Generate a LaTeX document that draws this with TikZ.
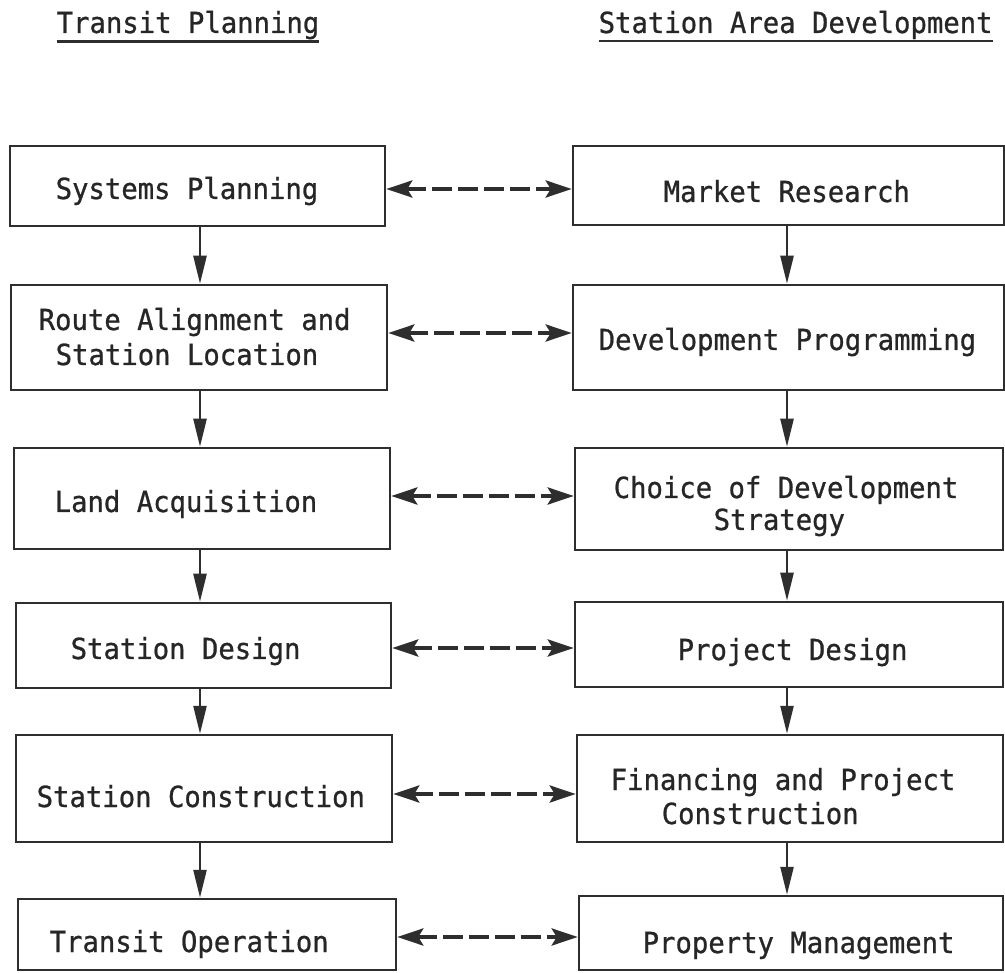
\documentclass[tikz,border=0pt]{standalone}
\usepackage{fontspec}
\setmonofont[FakeStretch=0.94,FakeBold=0.8]{DejaVu Sans Mono}
\usetikzlibrary{arrows.meta}
\definecolor{linec}{HTML}{2E2E2E}
\definecolor{textc}{HTML}{262626}
\tikzset{
  pbox/.style={draw=linec, line width=2.5pt, inner sep=0pt, rectangle},
  lbl/.style={anchor=base west, inner sep=0pt, text=textc,
    font=\ttfamily\fontsize{29}{34}\selectfont},
  varr/.style={draw=linec, line width=2.5pt, -{Triangle[width=13pt,length=28pt]}},
  darr/.style={draw=linec, line width=4pt, dash pattern=on 20pt off 6pt,
    {Stealth[width=17pt,length=26pt,inset=5pt]}-{Stealth[width=17pt,length=26pt,inset=5pt]}},
  uline/.style={draw=linec, line width=2.5pt}
}
\begin{document}
\begin{tikzpicture}[x=1pt,y=-1pt]
\useasboundingbox[fill=white] (0,0) rectangle (1005,973);

% titles
\node[lbl] (T1) at (56.5,33) {Transit Planning};
\node[lbl] (T2) at (598.5,33) {Station Area Development};
\draw[uline] ([yshift=-2pt]T1.south west) -- ([yshift=-2pt]T1.south east);
\draw[uline] ([yshift=-2pt]T2.south west) -- ([yshift=-2pt]T2.south east);

% left column boxes
\node[pbox, minimum width=375pt, minimum height=80pt]  (L1) at (197.5,186) {};
\node[pbox, minimum width=376pt, minimum height=105pt] (L2) at (199,337.5) {};
\node[pbox, minimum width=376pt, minimum height=101pt] (L3) at (202,498.5) {};
\node[pbox, minimum width=375pt, minimum height=85pt]  (L4) at (203.5,645.5) {};
\node[pbox, minimum width=376pt, minimum height=107pt] (L5) at (204,788.5) {};
\node[pbox, minimum width=378pt, minimum height=71pt]  (L6) at (207,934.5) {};

% right column boxes
\node[pbox, minimum width=431pt, minimum height=79pt]  (R1) at (788.5,185.5) {};
\node[pbox, minimum width=431pt, minimum height=105pt] (R2) at (788.5,337.5) {};
\node[pbox, minimum width=428pt, minimum height=102pt] (R3) at (789,499) {};
\node[pbox, minimum width=428pt, minimum height=85pt]  (R4) at (789,644.5) {};
\node[pbox, minimum width=426pt, minimum height=107pt] (R5) at (790,788.5) {};
\node[pbox, minimum width=424pt, minimum height=74pt]  (R6) at (791,933) {};

% left texts
\node[lbl] (tL1)  at (55.5,199) {Systems Planning};
\node[lbl] (tL2a) at (38.5,330) {Route Alignment and};
\node[lbl] (tL2b) at (55.5,365) {Station Location};
\node[lbl] (tL3)  at (54.5,512) {Land Acquisition};
\node[lbl] (tL4)  at (70.5,659) {Station Design};
\node[lbl] (tL5)  at (36.5,807) {Station Construction};
\node[lbl] (tL6)  at (49.5,952) {Transit Operation};

% right texts
\node[lbl] (tR1)  at (663.5,202) {Market Research};
\node[lbl] (tR2)  at (598.5,350) {Development Programming};
\node[lbl] (tR3a) at (613.5,498) {Choice of Development};
\node[lbl] (tR3b) at (713.5,530) {Strategy};
\node[lbl] (tR4)  at (677.5,660) {Project Design};
\node[lbl] (tR5a) at (610.5,790) {Financing and Project};
\node[lbl] (tR5b) at (661.5,824) {Construction};
\node[lbl] (tR6)  at (642.5,953) {Property Management};

% vertical arrow axes
\coordinate (axL) at (200,0);
\coordinate (axR) at (787,0);
\draw[varr] (L1.south -| axL) -- (L2.north -| axL);
\draw[varr] (L2.south -| axL) -- (L3.north -| axL);
\draw[varr] (L3.south -| axL) -- (L4.north -| axL);
\draw[varr] (L4.south -| axL) -- (L5.north -| axL);
\draw[varr] (L5.south -| axL) -- (L6.north -| axL);
\draw[varr] (R1.south -| axR) -- (R2.north -| axR);
\draw[varr] (R2.south -| axR) -- (R3.north -| axR);
\draw[varr] (R3.south -| axR) -- (R4.north -| axR);
\draw[varr] (R4.south -| axR) -- (R5.north -| axR);
\draw[varr] (R5.south -| axR) -- (R6.north -| axR);

% dashed two-way links
\coordinate (d1) at (0,189);
\coordinate (d2) at (0,333);
\coordinate (d3) at (0,496);
\coordinate (d4) at (0,648);
\coordinate (d5) at (0,794);
\coordinate (d6) at (0,937);
\draw[darr] (L1.east |- d1) -- (R1.west |- d1);
\draw[darr] (L2.east |- d2) -- (R2.west |- d2);
\draw[darr] (L3.east |- d3) -- (R3.west |- d3);
\draw[darr] (L4.east |- d4) -- (R4.west |- d4);
\draw[darr] (L5.east |- d5) -- (R5.west |- d5);
\draw[darr] (L6.east |- d6) -- (R6.west |- d6);
\end{tikzpicture}
\end{document}
